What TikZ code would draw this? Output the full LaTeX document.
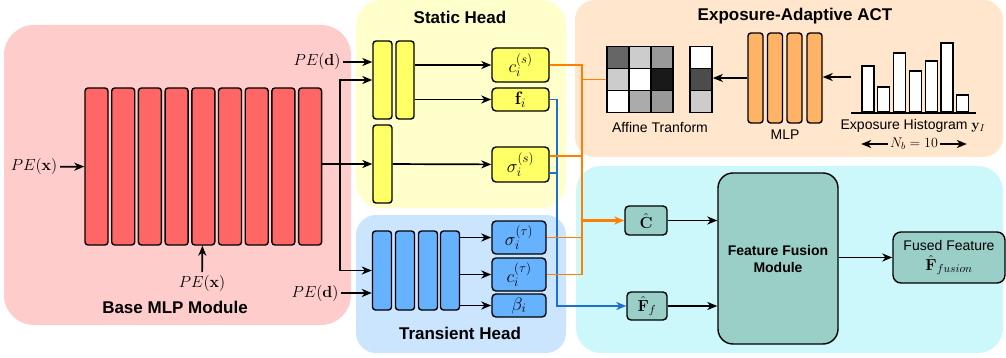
\RequirePackage{fix-cm}
\documentclass[tikz,border=0pt]{standalone}
\usepackage[no-math]{fontspec}
\setmainfont{Liberation Sans}
\usetikzlibrary{arrows.meta}
\DeclareMathSizes{14}{14}{10}{7}
\DeclareMathSizes{16}{16}{11.5}{9}
\DeclareMathSizes{18}{18}{13}{10}

\definecolor{basebg}{HTML}{FFCCCC}
\definecolor{staticbg}{HTML}{FFFFCC}
\definecolor{transbg}{HTML}{CCE5FF}
\definecolor{actbg}{HTML}{FFE6CC}
\definecolor{fusebg}{HTML}{CCF8FB}
\definecolor{redbar}{HTML}{FF6666}
\definecolor{yellowbar}{HTML}{FFFF66}
\definecolor{bluebar}{HTML}{66B2FF}
\definecolor{mlpbar}{HTML}{FFB366}
\definecolor{fusefill}{HTML}{9ACFC7}
\definecolor{oline}{HTML}{FF8000}
\definecolor{bline}{HTML}{1F6FD0}

\tikzset{
  arr/.style={-{Stealth[length=10pt,width=8pt,inset=3pt]}},
  layer/.style={draw, rounded corners=3pt, inner sep=0pt},
  outbox/.style={draw, rounded corners=4pt, inner sep=0pt, font=\fontsize{18}{20}\selectfont},
  fbox/.style={draw, fill=fusefill, rounded corners=4pt, inner sep=0pt, font=\fontsize{16}{18}\selectfont},
  lbl/.style={inner sep=2pt, font=\fontsize{16}{18}\selectfont},
  txt/.style={inner sep=1pt, font=\fontsize{14}{17}\selectfont},
  title/.style={inner sep=1pt, font=\bfseries\fontsize{17}{20}\selectfont},
  orangeline/.style={draw=oline, line width=1.7pt},
  blueline/.style={draw=bline, line width=1.7pt}
}

\begin{document}
\begin{tikzpicture}[x=1pt,y=-1pt,line width=1.7pt]
                \useasboundingbox (0,0) rectangle (1006,358);

                \fill[basebg, rounded corners=30pt] (4,25) rectangle (351,325);
                \fill[staticbg, rounded corners=25pt] (356,0) rectangle (566,208);
                \fill[transbg, rounded corners=20pt] (356,215) rectangle (566,353);
                \fill[actbg, rounded corners=20pt] (575,0) rectangle (1003,157);
                \fill[fusebg, rounded corners=25pt] (576,166) rectangle (1003,353);

                \node[title] (basettl) at (175,307) {Base MLP Module};
                \node[title] (staticttl) at (460,17) {Static Head};
                \node[title] (transttl) at (460,333) {Transient Head};
                \node[title] (actttl) at (795,16) {Exposure-Adaptive ACT};

                \foreach \i in {0,...,8}
                    \node[layer, line width=1.4pt, fill=redbar, minimum width=23pt, minimum height=157pt] (r\i) at ({96.5+26.7*\i},166.5) {};

                \node[lbl] (pxl) at (34,167) {$PE(\mathbf{x})$};
                \node[lbl] (pxb) at (202,283) {$PE(\mathbf{x})$};
                \node[lbl] (pdt) at (317,62) {$PE(\mathbf{d})$};
                \node[lbl] (pdb) at (315,293) {$PE(\mathbf{d})$};

                \draw[arr] (pxl) -- (r0);
                \draw[arr] (pxb) -- (r4);

                \node[layer, line width=1.4pt, fill=yellowbar, minimum width=19pt, minimum height=78pt] (y1) at (382.5,80) {};
                \node[layer, line width=1.4pt, fill=yellowbar, minimum width=18pt, minimum height=78pt] (y2) at (405,80) {};
                \node[layer, line width=1.4pt, fill=yellowbar, minimum width=19pt, minimum height=78pt] (y3) at (382.5,164) {};

                \foreach \i/\x in {1/382,2/405,3/428,4/450}
                    \node[layer, line width=1.4pt, fill=bluebar, minimum width=19pt, minimum height=79pt] (t\i) at (\x,270.5) {};

                \coordinate (split) at (340,164);
                \draw (r8.east |- split) -- (split);
                \draw[arr] (split) |- (y1);
                \draw[arr] (split) -- (y3);
                \draw[arr] (split) |- (t1);
                \draw[arr] (pdt) -- (pdt -| y1.west);
                \draw[arr] (pdb) -- (pdb -| t1.west);

                \node[outbox, line width=1.4pt, fill=yellowbar, minimum width=57pt, minimum height=34pt] (cs) at (520.5,65) {$c_i^{(s)}$};
                \node[outbox, line width=1.4pt, fill=yellowbar, minimum width=57pt, minimum height=23pt] (fi) at (520.5,99.5) {$\mathbf{f}_i$};
                \node[outbox, line width=1.4pt, fill=yellowbar, minimum width=57pt, minimum height=35pt] (ss) at (520.5,164.5) {$\sigma_i^{(s)}$};
                \node[outbox, line width=1.4pt, fill=bluebar, minimum width=54pt, minimum height=33pt] (st) at (519,237.5) {$\sigma_i^{(\tau)}$};
                \node[outbox, line width=1.4pt, fill=bluebar, minimum width=54pt, minimum height=33pt] (ct) at (519,274.5) {$c_i^{(\tau)}$};
                \node[outbox, line width=1.4pt, fill=bluebar, minimum width=54pt, minimum height=23pt] (bi) at (519,305.5) {$\beta_i$};

                \draw[arr] (y2.east |- cs) -- (cs);
                \draw[arr] (y2.east |- fi) -- (fi);
                \draw[arr] (y3) -- (ss);
                \draw[arr] (t4.east |- st) -- (st);
                \draw[arr] (t4.east |- ct) -- (ct);
                \draw[arr] (t4.east |- bi) -- (bi);

                % exposure-adaptive ACT
                \node[minimum size=66pt, inner sep=0pt] (affm) at (640,79.5) {};
                \foreach \c/\r/\g in {0/0/60,1/0/20,2/0/40,0/1/20,1/1/0,2/1/90,0/2/0,1/2/33,2/2/40}
                    \filldraw[fill=black!\g, line width=1.2pt] ({607+22*\c},{46.5+22*\r}) rectangle ++(22,22);
                \node[minimum width=22pt, minimum height=66pt, inner sep=0pt] (affv) at (701,79.5) {};
                \foreach \r/\g in {0/0,1/70,2/20}
                    \filldraw[fill=black!\g, line width=1.2pt] (690,{46.5+22*\r}) rectangle ++(22,22);
                \node[txt] (afflbl) at (660,127) {Affine Tranform};

                \foreach \i/\x in {1/755.5,2/775,3/794.5,4/814.5}
                    \node[layer, line width=1.4pt, fill=mlpbar, minimum width=15pt, minimum height=90pt] (m\i) at (\x,78) {};
                \node[txt] (mlplbl) at (785,135) {MLP};

                \node[minimum width=123pt, minimum height=70pt, inner sep=0pt] (hist) at (913.5,77) {};
                \draw (hist.south west) -- (hist.south east);
                \foreach \k/\t in {0/66,1/87,2/53,3/71,4/61,5/43,6/95}
                    \draw[fill=white, line width=1.2pt] ({862+15.8*\k},112) rectangle ++(12,{\t-112});
                \node[txt] (histlbl) at (913,126) {Exposure Histogram $\mathbf{y}_I$};
                \node[txt] (nb) at (914,144) {$N_b = 10$};
                \draw[arr] (nb.west) -- ++(-27,0);
                \draw[arr] (nb.east) -- ++(27,0);

                \draw[arr] (hist.west) -- (hist.west -| m4.east);
                \draw[arr] (m1) -- (m1 -| affv.east);

                % feature fusion
                \node[fbox, line width=1.4pt, minimum width=42pt, minimum height=29pt] (chat) at (646,220.5) {$\hat{\mathbf{C}}$};
                \node[fbox, line width=1.4pt, minimum width=40pt, minimum height=28pt] (fhat) at (647,306) {$\hat{\mathbf{F}}_f$};
                \node[fbox, line width=1.4pt, rounded corners=15pt, minimum width=120pt, minimum height=171pt, align=center, font=\bfseries\fontsize{14}{17}\selectfont] (ffm) at (778,258.5) {Feature Fusion\\Module};
                \node[fbox, line width=1.4pt, rounded corners=8pt, minimum width=112pt, minimum height=51pt, align=center, font=\fontsize{14}{17}\selectfont] (fused) at (949,257.5) {Fused Feature\\[3pt]\fontsize{16}{18}\selectfont$\hat{\mathbf{F}}_{fusion}$};

                \draw[arr] (chat) -- (chat -| ffm.west);
                \draw[arr] (fhat) -- (fhat -| ffm.west);
                \draw[arr] (ffm.east |- fused) -- (fused);

                % colour routing
                \coordinate (obus) at (582,0);
                \coordinate (bbus) at (557,0);
                \coordinate (sso) at ([yshift=8.5pt]ss.east);
                \coordinate (ssb) at ([yshift=-8.5pt]ss.east);
                \draw[blueline, arr] (fi) -| (bbus |- fhat) -- (fhat);
                \draw[blueline] (ssb) -- (ssb -| bbus);
                \draw[orangeline] (cs) -| (obus |- ct) -- (ct);
                \draw[orangeline] (sso) -- (sso -| obus);
                \draw[orangeline] (st) -- (st -| obus);
                \draw[orangeline] (obus |- affm) -- (affm);
                \draw[orangeline, arr, line width=2.1pt] (obus |- chat) -- (chat);
            \end{tikzpicture}
\end{document}
